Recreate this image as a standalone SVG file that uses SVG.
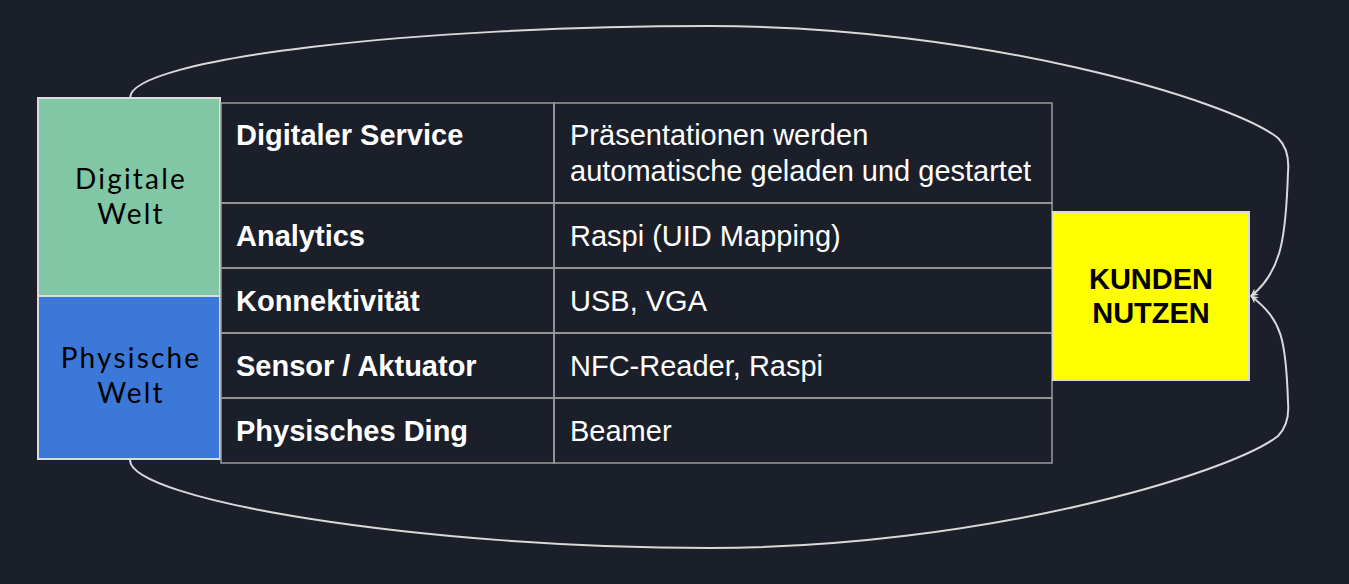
<svg xmlns="http://www.w3.org/2000/svg" width="1349" height="584" viewBox="0 0 1349 584">
<defs>
<style>
.bg{fill:#1b1f2a}
.world{stroke:#dcdcdc;stroke-width:2}
.wl{font-family:Lato,"Open Sans",sans-serif;font-size:28px;fill:#000;text-anchor:middle;letter-spacing:2.2px}
.cell{fill:none;stroke:#9a9a9a;stroke-width:1.5}
.hd{font-family:"Liberation Sans",Arial,sans-serif;font-size:29px;font-weight:bold;fill:#fff}
.tx{font-family:"Liberation Sans",Arial,sans-serif;font-size:29px;fill:#fff}
.kn{font-family:"Liberation Sans",Arial,sans-serif;font-size:29px;font-weight:bold;fill:#000;text-anchor:middle}
.conn{fill:none;stroke:#d9d9d9;stroke-width:2}
</style>
<marker id="arr" viewBox="0 0 10 10" refX="9" refY="5" markerWidth="8" markerHeight="8" markerUnits="userSpaceOnUse" orient="auto">
<path d="M0,0 L10,5 L0,10 L3,5 Z" fill="#d9d9d9"/>
</marker>
</defs>
<rect class="bg" x="0" y="0" width="1349" height="584"/>
<g id="connectors">
<path class="conn" d="M130,98 C130,58 420,26 710,26 C980,26 1230,100 1278,138 Q1290,150 1288,172 C1286,235 1282,272 1251,296" marker-end="url(#arr)"/>
<path class="conn" d="M130,460 C130,500 420,548 710,548 C980,548 1230,474 1278,436 Q1290,424 1288,402 C1286,339 1282,320 1251,296" marker-end="url(#arr)"/>
</g>
<g id="digitale-welt">
<rect class="world" x="38" y="98" width="182" height="198" fill="#82c7a5"/>
<text class="wl" x="131" y="189">Digitale</text>
<text class="wl" x="131" y="224">Welt</text>
</g>
<g id="physische-welt">
<rect class="world" x="38" y="296" width="182" height="163" fill="#3c78d8"/>
<text class="wl" x="131" y="368">Physische</text>
<text class="wl" x="131" y="403">Welt</text>
</g>
<g id="table">
<rect class="cell" x="221" y="103" width="333" height="100"/>
<rect class="cell" x="554" y="103" width="498" height="100"/>
<rect class="cell" x="221" y="203" width="333" height="65"/>
<rect class="cell" x="554" y="203" width="498" height="65"/>
<rect class="cell" x="221" y="268" width="333" height="65"/>
<rect class="cell" x="554" y="268" width="498" height="65"/>
<rect class="cell" x="221" y="333" width="333" height="65"/>
<rect class="cell" x="554" y="333" width="498" height="65"/>
<rect class="cell" x="221" y="398" width="333" height="65"/>
<rect class="cell" x="554" y="398" width="498" height="65"/>
<text class="hd" x="236" y="145">Digitaler Service</text>
<text class="tx" x="570" y="145">Präsentationen werden</text>
<text class="tx" x="570" y="181">automatische geladen und gestartet</text>
<text class="hd" x="236" y="246">Analytics</text>
<text class="tx" x="570" y="246">Raspi (UID Mapping)</text>
<text class="hd" x="236" y="311">Konnektivität</text>
<text class="tx" x="570" y="311">USB, VGA</text>
<text class="hd" x="236" y="376">Sensor / Aktuator</text>
<text class="tx" x="570" y="376">NFC-Reader, Raspi</text>
<text class="hd" x="236" y="441">Physisches Ding</text>
<text class="tx" x="570" y="441">Beamer</text>
</g>
<g id="kunden-nutzen">
<rect class="world" x="1053" y="212" width="196" height="168" fill="#ffff00"/>
<text class="kn" x="1151" y="289">KUNDEN</text>
<text class="kn" x="1151" y="323">NUTZEN</text>
</g>
</svg>
